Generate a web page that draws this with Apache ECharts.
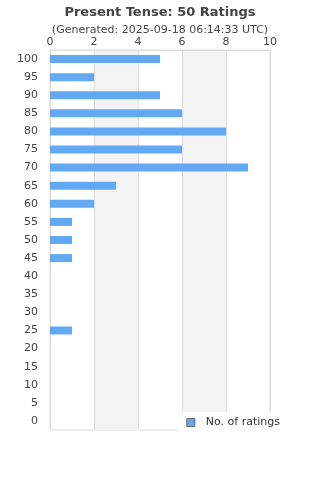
<!DOCTYPE html>
<html><head><meta charset="utf-8">
<script src="https://cdn.jsdelivr.net/npm/echarts@6/dist/echarts.min.js"></script>
<style>html,body{margin:0;padding:0;background:#fff}#c{width:320px;height:480px}</style>
</head><body><div id="c"></div>
<script>
const titleText = 'Present Tense: 50 Ratings';
const subtitleText = '(Generated: 2025-09-18 06:14:33 UTC)';
const categories = ['0','5','10','15','20','25','30','35','40','45','50','55','60','65','70','75','80','85','90','95','100'];
const ratings = [0,0,0,0,0,1,0,0,0,1,1,1,2,3,9,6,8,6,5,2,5];
const seriesName = 'No. of ratings';

const chart = echarts.init(document.getElementById('c'));
const font = 'DejaVu Sans';
chart.setOption({
  animation: false,
  textStyle: {fontFamily: font},
  title: {
    text: titleText, subtext: subtitleText, left: 'center', top: 1, itemGap: 6,
    textStyle: {fontFamily: font, fontSize: 13, fontWeight: 'bold', color: '#444'},
    subtextStyle: {fontFamily: font, fontSize: 11, color: '#444'}
  },
  legend: {
    data: [seriesName], right: 30, top: 412, itemWidth: 8, itemHeight: 8, itemGap: 5,
    backgroundColor: '#fff', padding: [5, 10, 5, 8],
    textStyle: {fontFamily: font, fontSize: 11, color: '#333', padding: [0, 0, 0, 6]},
    icon: 'rect',
    itemStyle: {borderColor: '#666', borderWidth: 1}
  },
  grid: {left: 50, right: 50, top: 50, bottom: 50, show: true, borderColor: '#ddd', borderWidth: 1, backgroundColor: 'transparent'},
  xAxis: {
    type: 'value', position: 'top', min: 0, max: 10, interval: 2,
    axisLine: {show: true, lineStyle: {color: '#ddd'}},
    axisTick: {show: false},
    axisLabel: {color: '#444', fontSize: 11, margin: 2, fontFamily: font},
    splitLine: {show: true, lineStyle: {color: '#ddd'}},
    splitArea: {show: true, areaStyle: {color: ['rgba(255,255,255,0)', '#f3f3f3']}}
  },
  yAxis: {
    type: 'category', data: categories,
    axisLine: {show: true, lineStyle: {color: '#ddd'}},
    axisTick: {show: false},
    axisLabel: {color: '#444', fontSize: 11, margin: 12, fontFamily: font}
  },
  series: [{
    name: seriesName, type: 'bar', data: ratings, barWidth: 8,
    itemStyle: {color: '#62a8f3'}
  }]
});
</script></body></html>
